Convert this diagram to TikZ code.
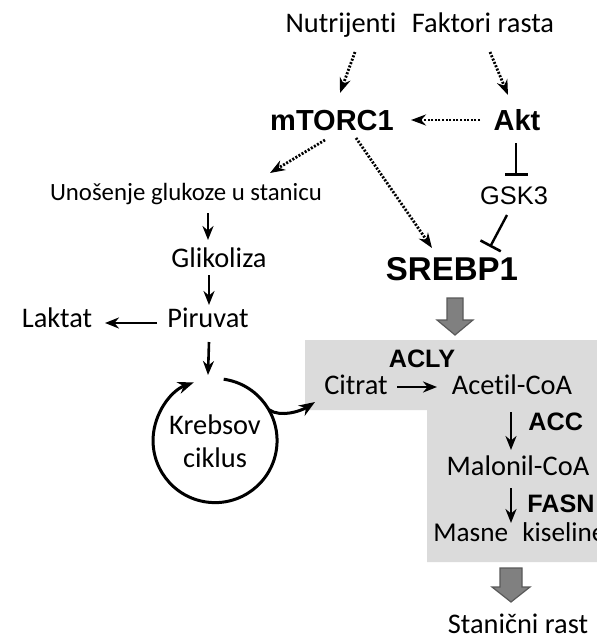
\documentclass[tikz,border=0pt]{standalone}
\usepackage{fontspec}
\setmainfont{Carlito}[Ligatures=NoCommon]
\newfontfamily\arialfont{Liberation Sans}
\usetikzlibrary{arrows.meta,calc}

\tikzset{
	lbl/.style={font=\fontsize{14.2}{16.5}\selectfont, inner sep=0pt, text height=10pt, text depth=3pt},
	prot/.style={font=\arialfont\bfseries\fontsize{14.5}{17}\selectfont, inner sep=0pt, text height=10.5pt, text depth=0pt},
	enz/.style={font=\arialfont\bfseries\fontsize{12.6}{15}\selectfont, inner sep=0pt, text height=9pt, text depth=0pt},
	cycnode/.style={circle, minimum size=62pt, inner sep=0pt, align=center, font=\fontsize{14.2}{16.5}\selectfont},
	arr/.style={line width=1.3pt, -{Stealth[length=7pt,width=5.5pt]}},
	dotarr/.style={line width=1.4pt, dash pattern=on 1pt off 0.8pt, -{Stealth[length=7.5pt,width=5.5pt]}},
	inhib/.style={line width=1.2pt, -{Bar[width=11.5pt,line width=1.3pt]}},
	cyc/.style={line width=1.5pt, -{Stealth[length=8pt,width=6pt]}},
	fatarr/.style={fill=black!50, draw=black!65, line width=0.6pt},
	boxfill/.style={fill=black!14}
}

\newcommand{\fatarrow}[4]{
	\filldraw[fatarr] ($(#1)+(-#3,0)$) -- ($(#2)+(-#3,-15)$) -- ($(#2)+(-#4,-15)$) -- (#2) -- ($(#2)+(#4,-15)$) -- ($(#2)+(#3,-15)$) -- ($(#1)+(#3,0)$) -- cycle;
}

\begin{document}
\begin{tikzpicture}[x=0.5pt, y=-0.5pt]
	\useasboundingbox (0,0) rectangle (597,639);
	\fill[boxfill] (305,340) -- (600,340) -- (600,562) -- (427,562) -- (427,410) -- (305,410) -- cycle;

	\node[lbl] (nutr) at (341,25) {Nutrijenti};
	\node[lbl] (fakt) at (483,25) {Faktori rasta};
	\node[prot] (mtor) at (332,120) {mTORC1};
	\node[prot] (akt) at (517,120) {Akt};
	\node[lbl, font=\fontsize{12.4}{15}\selectfont] (unos) at (186,193) {Unošenje glukoze u stanicu};
	\node[prot, font=\arialfont\fontsize{12.7}{15}\selectfont, text height=9pt] (gsk) at (514,195) {GSK3};
	\node[prot, font=\arialfont\bfseries\fontsize{16.5}{19}\selectfont, text height=12pt] (srebp) at (452,268) {SREBP1};
	\node[lbl] (glik) at (219,260) {Glikoliza};
	\node[lbl] (piru) at (208,320) {Piruvat};
	\node[lbl] (lakt) at (57,320) {Laktat};
	\node[cycnode] (krebs) at (215,441) {Krebsov\\ciklus};
	\node[enz] (acly) at (422,358) {ACLY};
	\node[lbl] (citrat) at (356,387) {Citrat};
	\node[lbl] (acetil) at (512,387) {Acetil-CoA};
	\node[enz, anchor=west] (acc) at (528,421) {ACC};
	\node[lbl] (malonil) at (518,468) {Malonil-CoA};
	\node[enz, anchor=west] (fasn) at (527,503) {FASN};
	\node[lbl, anchor=west, font=\fontsize{13.6}{16}\selectfont] (masne) at (433,534) {Masne\hspace{4pt} kiseline};
	\node[lbl] (stan) at (518,626) {Stanični rast};

	\draw[dotarr] ($(nutr)+(14,27)$) -- ($(mtor)+(8,-27)$);
	\draw[dotarr] ($(fakt)+(7,27)$) -- ($(akt)+(-9,-25)$);
	\draw[dotarr] ($(akt)+(-37,0)$) -- ($(mtor)+(79,0)$);
	\draw[dotarr] ($(mtor)+(-7,20)$) -- ($(unos)+(84,-20)$);
	\draw[dotarr] ($(mtor)+(24,18)$) -- ($(srebp)+(-20,-20)$);
	\draw[inhib] ($(akt)+(-1,23)$) -- ($(gsk)+(2,-19)$);
	\draw[inhib] ($(gsk)+(-7,20)$) -- ($(srebp)+(38,-21)$);

	\draw[arr] ($(unos)+(22,20)$) -- ($(glik)+(-11,-20)$);
	\draw[arr] ($(glik)+(-10,15)$) -- ($(piru)+(1,-15)$);
	\draw[arr] ($(piru)+(-51,3)$) -- ($(lakt)+(48,3)$);
	\draw[arr] ($(piru)+(1,22)$) -- ($(krebs)+(-7,-66)$);

	\draw[cyc] (krebs.82) arc[start angle=82, end angle=-250, radius=31pt];
	\draw[cyc] (krebs.30) .. controls ($(krebs.30)+(12,8)$) and ($(citrat)+(-55,24)$) .. ($(citrat)+(-41,15)$);

	\draw[arr] ($(citrat)+(41,0)$) -- ($(acetil)+(-75,0)$);
	\draw[arr] ($(acetil)+(-1,25)$) -- ($(malonil)+(-7,-18)$);
	\draw[arr] ($(malonil)+(-7,20)$) -- ($(masne.west)+(78,-11)$);

	\coordinate (srebpout) at ($(srebp)+(3,30)$);
	\coordinate (boxin) at ($(srebp)+(3,67)$);
	\coordinate (masneout) at ($(masne.west)+(78,34)$);
	\coordinate (stanin) at ($(stan)+(-7,-24)$);
	\fatarrow{srebpout}{boxin}{8}{18}
	\fatarrow{masneout}{stanin}{11}{19}
\end{tikzpicture}
\end{document}
